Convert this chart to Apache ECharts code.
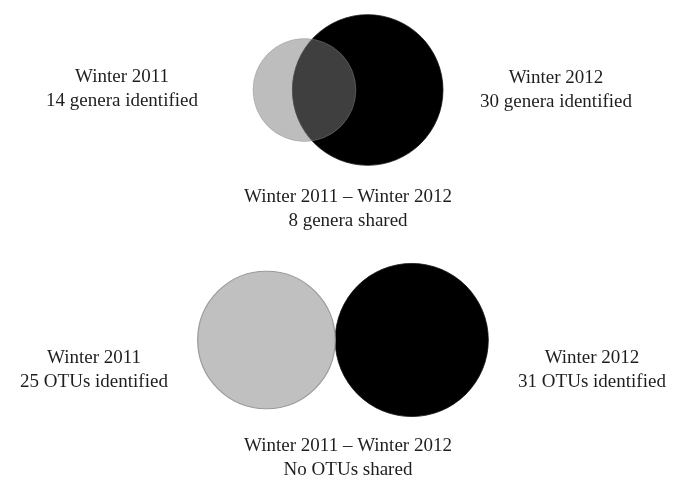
<!DOCTYPE html>
<html><head><meta charset="utf-8">
<script src="https://cdn.jsdelivr.net/npm/echarts@6/dist/echarts.min.js"></script>
<style>html,body{margin:0;padding:0;background:#fff}#c{width:676px;height:481px}</style>
</head><body><div id="c"></div>
<script>
// ---- data ----
const panels = ['genera', 'OTUs'];
const count2011 = [14, 25];
const count2012 = [30, 31];
const countShared = [8, 0];
const label2011 = ['Winter 2011\n14 genera identified', 'Winter 2011\n25 OTUs identified'];
const label2012 = ['Winter 2012\n30 genera identified', 'Winter 2012\n31 OTUs identified'];
const labelShared = ['Winter 2011 – Winter 2012\n8 genera shared', 'Winter 2011 – Winter 2012\nNo OTUs shared'];

// ---- layout (style/positions, not data) ----
const K = 13.75;                 // radius units per sqrt(count)
const panelMidX = [348, 343];
const panelCY = [90, 340];
const leftLabelPos = [[122, 89], [94, 370]];
const rightLabelPos = [[556, 90], [592, 370]];
const sharedLabelPos = [[348, 209], [348, 458]];

function lensArea(r1, r2, d) {
  if (d >= r1 + r2) return 0;
  if (d <= Math.abs(r1 - r2)) return Math.PI * Math.min(r1, r2) ** 2;
  const a1 = Math.acos((d * d + r1 * r1 - r2 * r2) / (2 * d * r1));
  const a2 = Math.acos((d * d + r2 * r2 - r1 * r1) / (2 * d * r2));
  const t = 0.5 * Math.sqrt((-d + r1 + r2) * (d + r1 - r2) * (d - r1 + r2) * (d + r1 + r2));
  return r1 * r1 * a1 + r2 * r2 * a2 - t;
}
function solveDist(r1, r2, target) {
  if (target <= 0) return r1 + r2;
  let lo = Math.abs(r1 - r2), hi = r1 + r2;
  for (let i = 0; i < 60; i++) {
    const m = (lo + hi) / 2;
    if (lensArea(r1, r2, m) > target) lo = m; else hi = m;
  }
  return (lo + hi) / 2;
}

const circles = [];   // [cx, cy, r, styleKey]
panels.forEach((p, i) => {
  const r1 = K * Math.sqrt(count2011[i]);
  const r2 = K * Math.sqrt(count2012[i]);
  const d = solveDist(r1, r2, Math.PI * K * K * countShared[i]);
  const width = r1 + d + r2;
  const cx1 = panelMidX[i] - width / 2 + r1;
  const cx2 = cx1 + d;
  const cy = panelCY[i];
  circles.push([cx2, cy, r2, 'black']);
  circles.push([cx1, cy, r1, countShared[i] > 0 ? 'greyOver' : 'grey']);
});

const styles = {
  black: { fill: '#000000', stroke: '#111', lineWidth: 0.8 },
  grey: { fill: '#c0c0c0', stroke: '#9a9a9a', lineWidth: 1.2 },
  greyOver: { fill: 'rgba(125,125,125,0.505)', stroke: 'rgba(140,140,140,0.4)', lineWidth: 1 }
};

const textStyle = { fontFamily: '"Liberation Serif", "Times New Roman", serif', fontSize: 19, fill: '#1e1e1e', textAlign: 'center', textVerticalAlign: 'middle', lineHeight: 24 };
const graphics = [];
panels.forEach((p, i) => {
  graphics.push({ type: 'text', x: leftLabelPos[i][0], y: leftLabelPos[i][1], style: Object.assign({ text: label2011[i] }, textStyle) });
  graphics.push({ type: 'text', x: rightLabelPos[i][0], y: rightLabelPos[i][1], style: Object.assign({ text: label2012[i] }, textStyle) });
  graphics.push({ type: 'text', x: sharedLabelPos[i][0], y: sharedLabelPos[i][1], style: Object.assign({ text: labelShared[i] }, textStyle) });
});

const chart = echarts.init(document.getElementById('c'), null, { renderer: 'canvas' });
chart.setOption({
  animation: false,
  backgroundColor: '#fff',
  grid: { left: 0, right: 0, top: 0, bottom: 0 },
  xAxis: { type: 'value', min: 0, max: 676, show: false },
  yAxis: { type: 'value', min: 0, max: 481, inverse: true, show: false },
  series: [{
    type: 'custom',
    coordinateSystem: 'cartesian2d',
    data: circles.map(c => c.slice(0, 3)),
    renderItem: function (params, api) {
      const c = api.coord([api.value(0), api.value(1)]);
      const r = api.size([api.value(2), 0])[0];
      const st = styles[circles[params.dataIndex][3]];
      return { type: 'circle', shape: { cx: c[0], cy: c[1], r: r }, style: { fill: st.fill, stroke: st.stroke, lineWidth: st.lineWidth } };
    },
    silent: true
  }],
  graphic: graphics
});
</script>
</body></html>
